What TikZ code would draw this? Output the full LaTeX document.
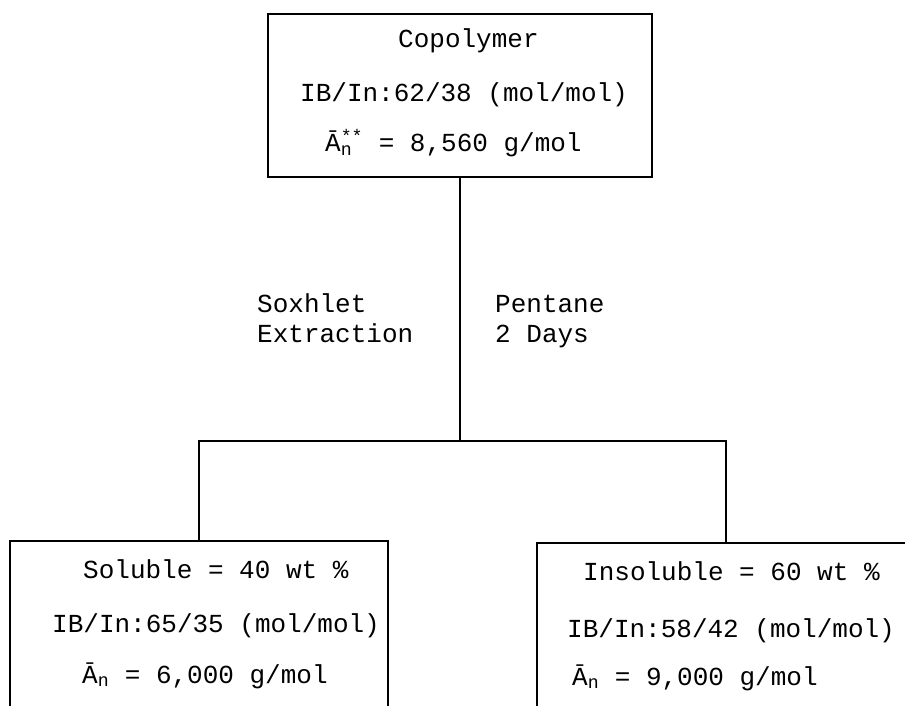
\documentclass[tikz,border=0pt]{standalone}
\usepackage{fontspec}
\newfontfamily\monofam{Liberation Mono}
\newcommand\Abarn{\={A}\textsubscript{n}}
\newcommand\Abarnss{\={A}\rlap{\textsubscript{n}}\textsuperscript{**}}
\tikzset{
  boxed/.style={draw, line width=1.6pt, rectangle, inner sep=0pt},
  txt/.style={font=\monofam\fontsize{26}{30}\selectfont, inner sep=0pt, anchor=base west},
  conn/.style={line width=1.6pt, line join=miter},
}
\begin{document}
\begin{tikzpicture}[x=1pt,y=-1pt]
\useasboundingbox (0,0) rectangle (905,706);
\fill[white] (0,0) rectangle (905,706);
\clip (0,0) rectangle (905,706);
% boxes
\node[boxed, minimum width=384pt, minimum height=163pt] (top) at (460,95.5) {};
\node[boxed, minimum width=378pt, minimum height=239pt] (left) at (199,660.5) {};
\node[boxed, minimum width=378pt, minimum height=237pt] (right) at (726,661.5) {};
% junctions
\coordinate (mid) at (460,441);
\coordinate (lj) at (199,441);
\coordinate (rj) at (726,441);
\draw[conn] (top.south) -- (mid);
\draw[conn] (left.north) -- (lj) -- (rj) -- (right.north);
% top box text
\node[txt] (t1) at (398,48) {Copolymer};
\node[txt] (t2) at (300,102) {IB/In:62/38 (mol/mol)};
\node[txt] (t3) at (325,152) {\Abarnss{} = 8,560 g/mol};
% labels
\node[txt] (s1) at (257,312) {Soxhlet};
\node[txt] (s2) at (257,342) {Extraction};
\node[txt] (p1) at (495,312) {Pentane};
\node[txt] (p2) at (495,342) {2 Days};
% left box text
\node[txt] (l1) at (83,578) {Soluble = 40 wt \%};
\node[txt] (l2) at (52,632) {IB/In:65/35 (mol/mol)};
\node[txt] (l3) at (82,683) {\Abarn{} = 6,000 g/mol};
% right box text
\node[txt] (r1) at (583,580) {Insoluble = 60 wt \%};
\node[txt] (r2) at (567,637) {IB/In:58/42 (mol/mol)};
\node[txt] (r3) at (572,685) {\Abarn{} = 9,000 g/mol};
\end{tikzpicture}
\end{document}
